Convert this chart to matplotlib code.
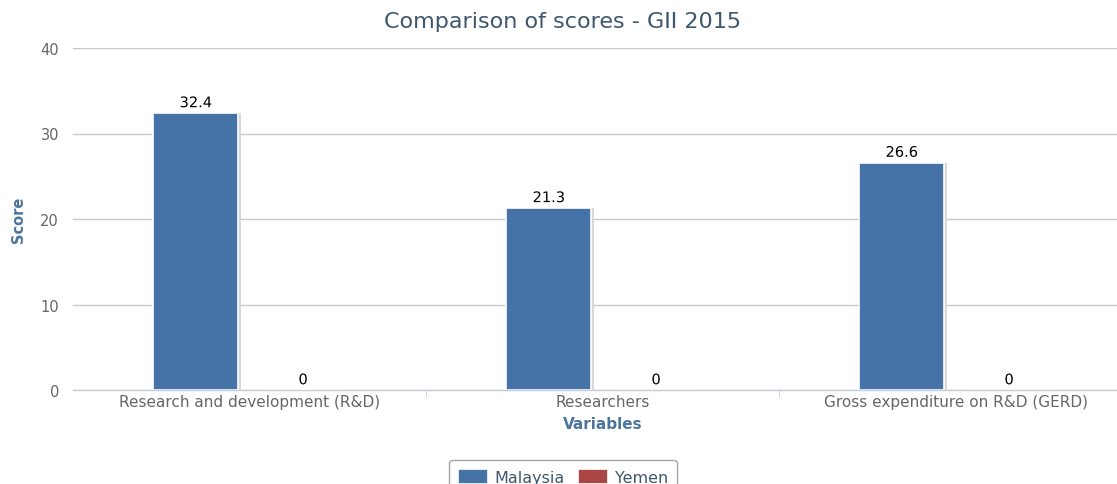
import matplotlib
matplotlib.use("Agg")
import matplotlib.pyplot as plt
import matplotlib.patheffects as pe
import numpy as np

categories = ["Research and development (R&D)", "Researchers", "Gross expenditure on R&D (GERD)"]
series_names = ["Malaysia", "Yemen"]
malaysia = [32.4, 21.3, 26.6]
yemen = [0, 0, 0]
yticks = [0, 10, 20, 30, 40]

colors = ["#4572A7", "#AA4643"]

fig = plt.figure(figsize=(11.17, 4.85), dpi=100)
ax = fig.add_axes([73/1117, 94/485, 3*353/1117, 342/485])

x = np.arange(len(categories))
width = 0.24
offset = 0.152
for vals, off, col, name in [(malaysia, -offset, colors[0], series_names[0]),
                             (yemen, offset, colors[1], series_names[1])]:
    vals = np.asarray(vals, dtype=float)
    pos = vals > 0
    # shadow (only for non-zero bars)
    ax.bar((x + off + 0.008)[pos], vals[pos], width, color="#d8d8d8", zorder=2)
    ax.bar(x + off, vals, width, color=col, edgecolor="white",
           linewidth=1.2, zorder=3, label=name)
    for xi, v in zip(x + off, vals):
        ax.annotate(f"{v:g}", (xi, v), xytext=(0, 2), textcoords="offset points",
                    ha="center", va="bottom", fontsize=10.5, color="black", zorder=4,
                    path_effects=[pe.withStroke(linewidth=2, foreground="white")])

ax.set_xlim(-0.5, 2.5)
ax.set_ylim(0, 40)
ax.set_yticks(yticks)
ax.set_yticklabels([str(t) for t in yticks], fontsize=10.5, color="#666666")
ax.yaxis.grid(True, color="#C8C8C8", linewidth=1)
ax.set_axisbelow(True)
ax.tick_params(axis="y", length=0, pad=10)

ax.set_xticks(x)
ax.set_xticklabels(categories, fontsize=11, color="#666666")
ax.tick_params(axis="x", length=0, pad=3)
ax.set_xticks([0.5, 1.5], minor=True)
ax.tick_params(axis="x", which="minor", length=5, color="#C0D0E0", direction="out")

for s in ["top", "right", "left"]:
    ax.spines[s].set_visible(False)
ax.spines["bottom"].set_color("#C0D0E0")
ax.spines["bottom"].set_linewidth(1)
ax.spines["bottom"].set_zorder(6)

ax.set_ylabel("Score", fontsize=10.5, color="#4D759E", fontweight="bold", labelpad=10)
ax.set_xlabel("Variables", fontsize=11, color="#4D759E", fontweight="bold", labelpad=5)

fig.text(563/1117, 1 - 22/485, "Comparison of scores - GII 2015", ha="center", va="center",
         fontsize=16, color="#3E576F")

leg = fig.legend(loc="upper center", bbox_to_anchor=(563/1117, 1 - 453/485), ncol=2, fontsize=11.5,
                 frameon=True, handlelength=1.9, handleheight=1.1, columnspacing=0.8,
                 handletextpad=0.4, borderpad=0.55, fancybox=True)
leg.get_frame().set_edgecolor("#909090")
leg.get_frame().set_linewidth(1)
for t in leg.get_texts():
    t.set_color("#3E576F")

fig.savefig("out.png", dpi=100)
